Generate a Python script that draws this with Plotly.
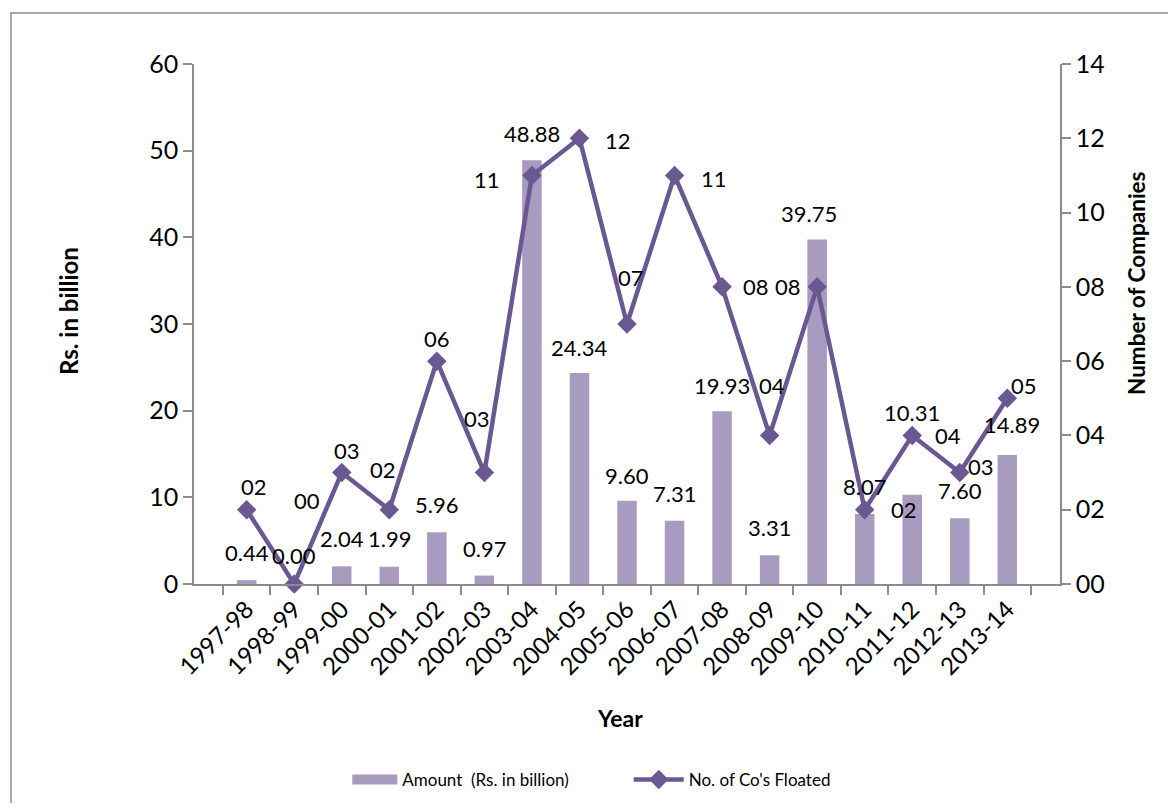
import plotly.graph_objects as go

years = ["1997-98", "1998-99", "1999-00", "2000-01", "2001-02", "2002-03", "2003-04",
         "2004-05", "2005-06", "2006-07", "2007-08", "2008-09", "2009-10", "2010-11",
         "2011-12", "2012-13", "2013-14"]
amount = [0.44, 0.00, 2.04, 1.99, 5.96, 0.97, 48.88, 24.34, 9.60, 7.31, 19.93, 3.31,
          39.75, 8.07, 10.31, 7.60, 14.89]
companies = [2, 0, 3, 2, 6, 3, 11, 12, 7, 11, 8, 4, 8, 2, 4, 3, 5]

# label placement offsets (pixels) copied from the reference layout
bar_lbl_dx = [0, 0, 0, 0, 0, 0, 0, 0, 0, 0, 0, 0, -8, 0, 0, 0, 5]
bar_lbl_dy = [28, 29, 28, 28, 28, 27, 27, 26, 25, 27, 26, 28, 26, 28, 82, 28, 30]
line_lbl_dx = [7, 13, 5, -6, 0, -7, -45, 39, 4, 39, 34, 2, -29, 39, 36, 21, 17]
line_lbl_dy = [23, 84, 22, 40, 23, 54, -4, -2, 47, -3, 0, 50, 0, 0, 0, 6, 13]

BAR = "#A89BC0"
LINE = "#6A5893"
FONT = "Lato"
AX = "#8C8C8C"

fig = go.Figure()
fig.add_trace(go.Bar(
    x=years, y=amount, name="Amount  (Rs. in billion)", showlegend=False,
    marker=dict(color=BAR, line=dict(width=0)), width=0.41, yaxis="y",
))
fig.add_trace(go.Scatter(
    x=years, y=companies, name="No. of Co's Floated", yaxis="y2",
    mode="lines+markers", cliponaxis=False, legend="legend2",
    line=dict(color=LINE, width=4.5),
    marker=dict(symbol="diamond", size=15, color=LINE),
))
# legend-only swatch for the bar series (wide rectangle like the reference)
fig.add_trace(go.Scatter(
    x=[None], y=[None], name="Amount  (Rs. in billion)", mode="lines",
    line=dict(color=BAR, width=12), legend="legend", hoverinfo="skip",
))

annotations = []
for i, (yr, a) in enumerate(zip(years, amount)):
    annotations.append(dict(
        x=yr, y=a, xref="x", yref="y", text=f"{a:.2f}", showarrow=False,
        xshift=bar_lbl_dx[i], yshift=bar_lbl_dy[i],
        font=dict(family=FONT, size=22, color="#000"),
        xanchor="center", yanchor="middle",
    ))
for i, (yr, n) in enumerate(zip(years, companies)):
    annotations.append(dict(
        x=yr, y=n, xref="x", yref="y2", text=f"{n:02d}", showarrow=False,
        xshift=line_lbl_dx[i], yshift=line_lbl_dy[i],
        font=dict(family=FONT, size=22, color="#000"),
        xanchor="center", yanchor="middle",
    ))
annotations += [
    dict(x=-0.1455, y=0.525, xref="paper", yref="paper", text="<b>Rs. in billion</b>",
         textangle=-90, showarrow=False, xanchor="center", yanchor="middle",
         font=dict(family=FONT, size=24, color="#000")),
    dict(x=1.089, y=0.579, xref="paper", yref="paper", text="<b>Number of Companies</b>",
         textangle=-90, showarrow=False, xanchor="center", yanchor="middle",
         font=dict(family=FONT, size=22.5, color="#000")),
    dict(x=0.492, y=-0.2577, xref="paper", yref="paper", text="<b>Year</b>",
         showarrow=False, xanchor="center", yanchor="middle",
         font=dict(family=FONT, size=23, color="#000")),
]

fig.update_layout(
    width=1160, height=795,
    margin=dict(l=186, r=108, t=56, b=219, autoexpand=False),
    paper_bgcolor="white", plot_bgcolor="white",
    font=dict(family=FONT, size=22, color="#000"),
    showlegend=True,
    legend=dict(orientation="h", x=0.177, xanchor="left", y=-0.377, yanchor="middle",
                font=dict(family=FONT, size=17, color="#000"), itemwidth=45,
                bgcolor="rgba(0,0,0,0)"),
    legend2=dict(orientation="h", x=0.502, xanchor="left", y=-0.377, yanchor="middle",
                 font=dict(family=FONT, size=17, color="#000"), itemwidth=50,
                 bgcolor="rgba(0,0,0,0)"),
    xaxis=dict(type="category", showline=True, linecolor=AX, linewidth=1.5,
               ticks="outside", ticklen=9, tickcolor=AX, tickwidth=1.5,
               tickson="boundaries", tickangle=-45, showgrid=False, automargin=False,
               tickfont=dict(family=FONT, size=24)),
    yaxis=dict(range=[0, 60], dtick=10, showline=True, linecolor=AX, linewidth=1.5,
               ticks="outside", ticklen=9, tickcolor=AX, tickwidth=1.5, automargin=False,
               showgrid=False, zeroline=False, tickfont=dict(family=FONT, size=25)),
    yaxis2=dict(range=[0, 14], dtick=2, tickformat="02d", overlaying="y", side="right",
                showline=True, linecolor=AX, linewidth=1.5, automargin=False,
                ticks="outside", ticklen=9, tickcolor=AX, tickwidth=1.5,
                showgrid=False, zeroline=False, tickfont=dict(family=FONT, size=25)),
    annotations=annotations,
    shapes=[dict(type="rect", xref="paper", yref="paper",
                 x0=-0.2113, x1=1.2, y0=-0.5, y1=1.098,
                 line=dict(color="#8C8C8C", width=1.5), fillcolor="rgba(0,0,0,0)",
                 layer="below")],
)

fig.write_html("out.html")
